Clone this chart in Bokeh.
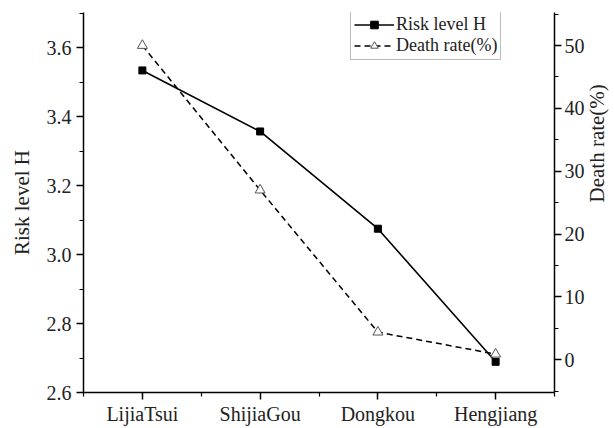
import math
from bokeh.plotting import figure
from bokeh.models import (Range1d, LinearAxis, FixedTicker, ColumnDataSource,
                          Legend, LegendItem)
from bokeh.embed import file_html
from bokeh.resources import INLINE

sites = ["LijiaTsui", "ShijiaGou", "Dongkou", "Hengjiang"]
risk_h = [3.534, 3.357, 3.075, 2.689]
death_rate = [50.0, 27.0, 4.4, 0.9]
left_ticks = [2.6, 2.8, 3.0, 3.2, 3.4, 3.6]
right_ticks = [0, 10, 20, 30, 40, 50]

FONT = "Liberation Serif"

xs = list(range(len(sites)))
src = ColumnDataSource(dict(x=xs, h=risk_h, d=death_rate))

p = figure(frame_width=471, frame_height=380, output_backend="svg",
           toolbar_location=None,
           x_range=Range1d(-0.5, 3.5), y_range=Range1d(2.6, 3.702),
           min_border_left=83, min_border_right=58, min_border_top=12,
           min_border_bottom=31)
p.outline_line_color = None
p.grid.visible = False
p.background_fill_color = "white"

p.extra_y_ranges = {"dr": Range1d(-5.2, 55.25)}

# lines and markers
l1 = p.line("x", "h", source=src, line_color="black", line_width=1.6)
m1 = p.scatter("x", "h", source=src, marker="square", size=7,
               fill_color="black", line_color="black")
l2 = p.line("x", "d", source=src, line_color="black", line_width=1.5,
            line_dash="6 4", y_range_name="dr")
m2 = p.scatter("x", "d", source=src, marker="triangle", size=10,
               fill_color="white", line_color="#555555", line_width=1,
               y_range_name="dr")

def style(ax):
    ax.axis_line_color = "black"
    ax.axis_line_width = 1.5
    ax.major_tick_line_color = "black"
    ax.major_tick_line_width = 1.5
    ax.minor_tick_line_color = "black"
    ax.minor_tick_line_width = 1.2
    ax.major_tick_out = 7
    ax.major_tick_in = 0
    ax.minor_tick_out = 4
    ax.minor_tick_in = 0
    ax.major_label_text_font = FONT
    ax.major_label_text_font_size = "20px"
    ax.major_label_text_color = "#222222"
    ax.axis_label_text_font = FONT
    ax.axis_label_text_font_size = "21px"
    ax.axis_label_text_font_style = "normal"
    ax.axis_label_text_color = "#222222"

# bottom axis
xa = p.xaxis[0]
xa.ticker = FixedTicker(ticks=xs, minor_ticks=[-0.5, 0.5, 1.5, 2.5, 3.5])
xa.major_label_overrides = {i: s for i, s in enumerate(sites)}
style(xa)
xa.major_label_standoff = 3

# left axis
ya = p.yaxis[0]
ya.ticker = FixedTicker(ticks=left_ticks,
                        minor_ticks=[2.7, 2.9, 3.1, 3.3, 3.5, 3.7])
ya.formatter.use_scientific = False
ya.major_label_overrides = {v: f"{v:.1f}" for v in left_ticks}
ya.axis_label = "Risk level H"
style(ya)
ya.axis_label_standoff = 10

# right axis
ra = LinearAxis(y_range_name="dr", axis_label="Death rate(%)")
ra.ticker = FixedTicker(ticks=right_ticks, minor_ticks=[-5, 5, 15, 25, 35, 45, 55])
style(ra)
ra.major_label_standoff = 3
ra.axis_label_standoff = 9
ra.axis_label_orientation = math.pi / 2
ra.axis_label_text_align = "center"
ra.axis_label_text_baseline = "middle"
p.add_layout(ra, "right")

legend = Legend(items=[LegendItem(label="Risk level H", renderers=[l1, m1]),
                       LegendItem(label="Death rate(%)", renderers=[l2, m2])],
                location=(267, 332))
legend.label_text_font = FONT
legend.label_text_font_size = "18px"
legend.label_text_color = "#222222"
legend.border_line_color = "#777777"
legend.border_line_width = 1
legend.glyph_width = 40
legend.glyph_height = 19
legend.label_standoff = 2
legend.spacing = 0
legend.padding = 3
legend.margin = 0
legend.label_height = 19
p.add_layout(legend, "center")

open("out.html", "w").write(file_html(p, INLINE))
